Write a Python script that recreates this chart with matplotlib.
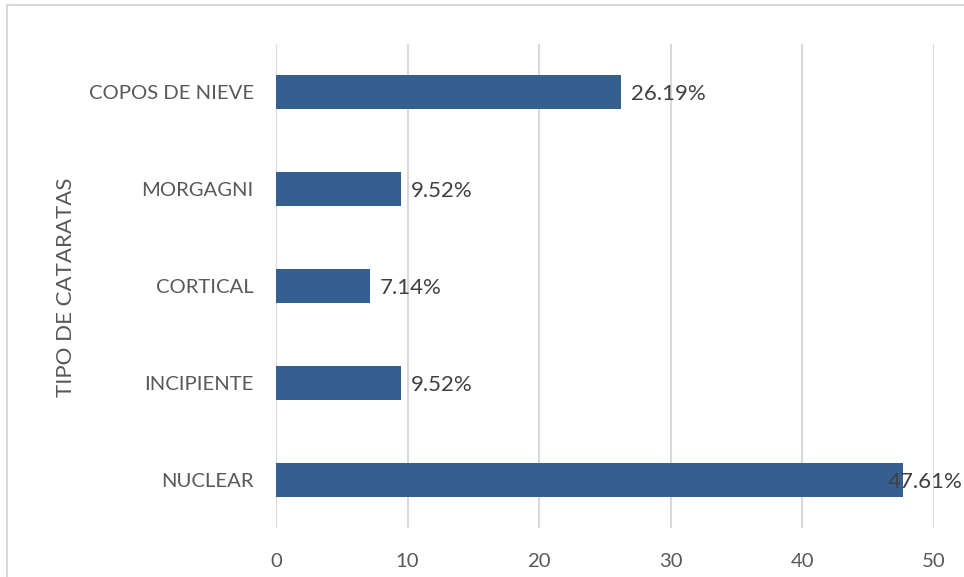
import matplotlib.pyplot as plt
from matplotlib.lines import Line2D

# bar categories, bottom to top
tipos = ['NUCLEAR', 'INCIPIENTE', 'CORTICAL', 'MORGAGNI', 'COPOS DE NIEVE']
porcentajes = [47.61, 9.52, 7.14, 9.52, 26.19]
xticks = [0, 10, 20, 30, 40, 50]

plt.rcParams['font.family'] = ['Lato', 'DejaVu Sans']

fig = plt.figure(figsize=(9.64, 5.77), dpi=100)
ax = fig.add_axes([276/964, 1 - 528/577, (934 - 276)/964, (528 - 44)/577])

pos = range(len(tipos))
bars = ax.barh(pos, porcentajes, height=0.35, color='#365F91', zorder=3)

for i, v in enumerate(porcentajes):
    # the widest label is pulled back over the bar end
    off = -15 if v > 45 else 10
    ax.annotate('%.2f%%' % v, xy=(v, i), xytext=(off, -2),
                textcoords='offset pixels', ha='left', va='center',
                fontsize=16, color='#404040', zorder=4)

ax.set_xlim(0, 50)
ax.set_ylim(-0.5, len(tipos) - 0.5)
ax.set_xticks(xticks)
ax.set_yticks(list(pos))
ax.set_yticklabels(tipos)
ax.tick_params(axis='both', length=0, labelsize=14.6, colors='#595959')
ax.tick_params(axis='x', pad=18)
ax.tick_params(axis='y', pad=16)
ax.grid(axis='x', color='#D9D9D9', linewidth=1.5, zorder=0)
ax.grid(axis='y', visible=False)
for s in ax.spines.values():
    s.set_visible(False)

fig.text(66/964, 1 - 287/577, 'TIPO DE CATARATAS', rotation=90,
         ha='center', va='center', fontsize=16, color='#595959')

# chart frame
fig.add_artist(Line2D([7/964, 1], [1 - 5/577, 1 - 5/577], color='#D9D9D9', lw=1.5))
fig.add_artist(Line2D([7/964, 7/964], [0, 1 - 5/577], color='#D9D9D9', lw=1.5))

fig.savefig('out.png', dpi=100)
